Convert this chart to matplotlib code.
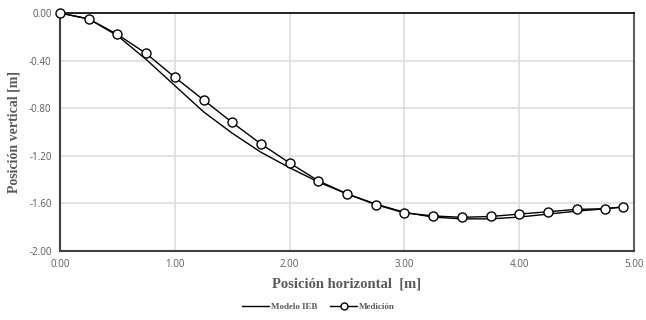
import matplotlib
matplotlib.use("Agg")
import matplotlib.pyplot as plt
from matplotlib.lines import Line2D

x_med = [0.0, 0.25, 0.5, 0.75, 1.0, 1.25, 1.5, 1.75, 2.0, 2.25, 2.5, 2.75,
         3.0, 3.25, 3.5, 3.75, 4.0, 4.25, 4.5, 4.75, 4.9]
y_med = [0.0, -0.05, -0.18, -0.34, -0.54, -0.73, -0.92, -1.10, -1.26, -1.41,
         -1.52, -1.61, -1.68, -1.705, -1.717, -1.71, -1.69, -1.67, -1.65, -1.645, -1.63]

x_mod = [0.0, 0.25, 0.5, 0.75, 1.0, 1.25, 1.5, 1.75, 2.0, 2.25, 2.5, 2.75,
         3.0, 3.25, 3.5, 3.75, 4.0, 4.25, 4.5, 4.75, 4.9]
y_mod = [0.0, -0.05, -0.19, -0.39, -0.61, -0.83, -1.01, -1.17, -1.30, -1.42,
         -1.52, -1.605, -1.675, -1.715, -1.73, -1.73, -1.715, -1.69, -1.665, -1.645, -1.63]

xticks = [0, 1, 2, 3, 4, 5]
yticks = [0.0, -0.4, -0.8, -1.2, -1.6, -2.0]

fig = plt.figure(figsize=(6.46, 3.2), dpi=100)
ax = fig.add_axes([60/646, 1-251/320, (634-60)/646, (251-13)/320])

grey = "#595959"
ax.plot(x_mod, y_mod, color="black", lw=1.0, zorder=3)
ax.plot(x_med, y_med, color="black", lw=1.0, marker="o", markersize=6.5,
        markerfacecolor="white", markeredgecolor="black", markeredgewidth=1.0,
        zorder=4, clip_on=False)

ax.set_xlim(0, 5)
ax.set_ylim(-2, 0)
ax.set_xticks(xticks)
ax.set_yticks(yticks)
ax.set_xticklabels([f"{v:.2f}" for v in xticks])
ax.set_yticklabels([f"{v:.2f}" for v in yticks])
ax.grid(True, color="#dedede", lw=1.2)
ax.set_axisbelow(True)
ax.tick_params(length=0, labelsize=7, labelcolor=grey, pad=6)
for lab in ax.get_xticklabels() + ax.get_yticklabels():
    lab.set_family("Open Sans")

ax.spines["left"].set_color("#404040")
ax.spines["left"].set_linewidth(1.5)
ax.spines["bottom"].set_color("#404040")
ax.spines["bottom"].set_linewidth(1.5)
ax.spines["top"].set_color("black")
ax.spines["top"].set_linewidth(1.2)
ax.spines["right"].set_color("#606060")
ax.spines["right"].set_linewidth(1.5)

ax.set_xlabel("Posición horizontal  [m]", family="Liberation Serif", fontweight="bold",
              fontsize=10.5, color=grey, labelpad=5)
ax.set_ylabel("Posición vertical [m]", family="Liberation Serif", fontweight="bold",
              fontsize=10, color=grey, labelpad=6)

handles = [
    Line2D([], [], color="black", lw=1.0),
    Line2D([], [], color="black", lw=1.0, marker="o", markersize=5,
           markerfacecolor="white", markeredgecolor="black", markeredgewidth=1.0),
]
leg = fig.legend(handles, ["Modelo IEB", "Medición"], loc="center",
                 bbox_to_anchor=(0.493, 0.04), ncol=2, frameon=False,
                 prop={"family": "Liberation Serif", "weight": "bold", "size": 6.5},
                 handlelength=3.0, columnspacing=1.4, handletextpad=0.2)
for t in leg.get_texts():
    t.set_color(grey)

fig.savefig("out.png", dpi=100)
